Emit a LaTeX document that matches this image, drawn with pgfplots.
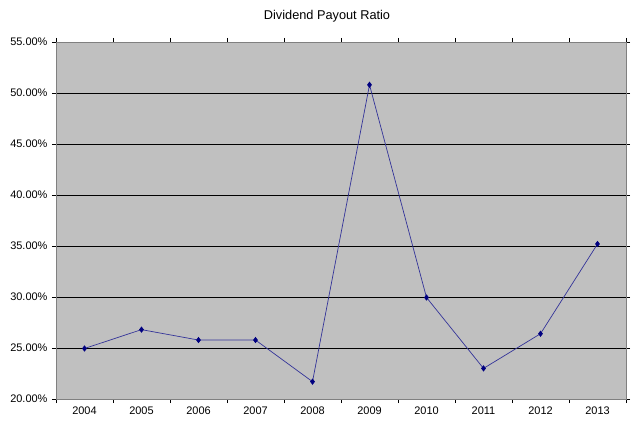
\documentclass[border=0pt]{standalone}
\usepackage{pgfplots}
\pgfplotsset{compat=1.18}
\usepackage{fontspec}
\setmainfont{Liberation Sans}
\definecolor{plotbg}{HTML}{C0C0C0}
\definecolor{linecol}{HTML}{333399}
\definecolor{markcol}{HTML}{000080}
\definecolor{axcol}{HTML}{808080}
\begin{document}
\begin{tikzpicture}
\useasboundingbox (0,0) rectangle (640bp,430bp);
\node[font=\fontsize{12.8}{15}\selectfont, inner sep=0] at (327bp,413.5bp) {Dividend Payout Ratio};
\begin{axis}[
  at={(56bp,31bp)}, anchor=south west,
  scale only axis, width=570bp, height=357bp,
  xmin=-0.5, xmax=9.5, ymin=20, ymax=55,
  axis background/.style={fill=plotbg},
  axis line style={axcol, line width=0.8pt},
  xtick={0,...,9},
  xticklabels={2004,2005,2006,2007,2008,2009,2010,2011,2012,2013},
  minor xtick={-0.5,0.5,...,9.5},
  major x tick style={draw=none},
  minor x tick style={black, line width=0.5pt},
  ytick={20,25,...,55},
  y tick style={black, line width=0.5pt},
  tick align=outside,
  major tick length=4bp, minor tick length=4bp,
  ymajorgrids, grid style={black, line width=0.6pt},
  yticklabel={\pgfmathprintnumber[fixed,fixed zerofill,precision=2]{\tick}\%},
  /pgf/number format/assume math mode=true,
  ticklabel style={font=\fontsize{11}{13}\selectfont},
  xticklabel style={yshift=-0.5bp},
  yticklabel style={xshift=-1bp},
  clip=false,
]
\addplot[linecol, line width=0.7pt, mark=diamond*, mark size=2.6bp,
  mark options={fill=markcol, draw=markcol}] coordinates {
  (0,24.95) (1,26.8) (2,25.78) (3,25.78) (4,21.7)
  (5,50.8) (6,29.95) (7,23.0) (8,26.4) (9,35.2)
};
\end{axis}
\end{tikzpicture}
\end{document}
